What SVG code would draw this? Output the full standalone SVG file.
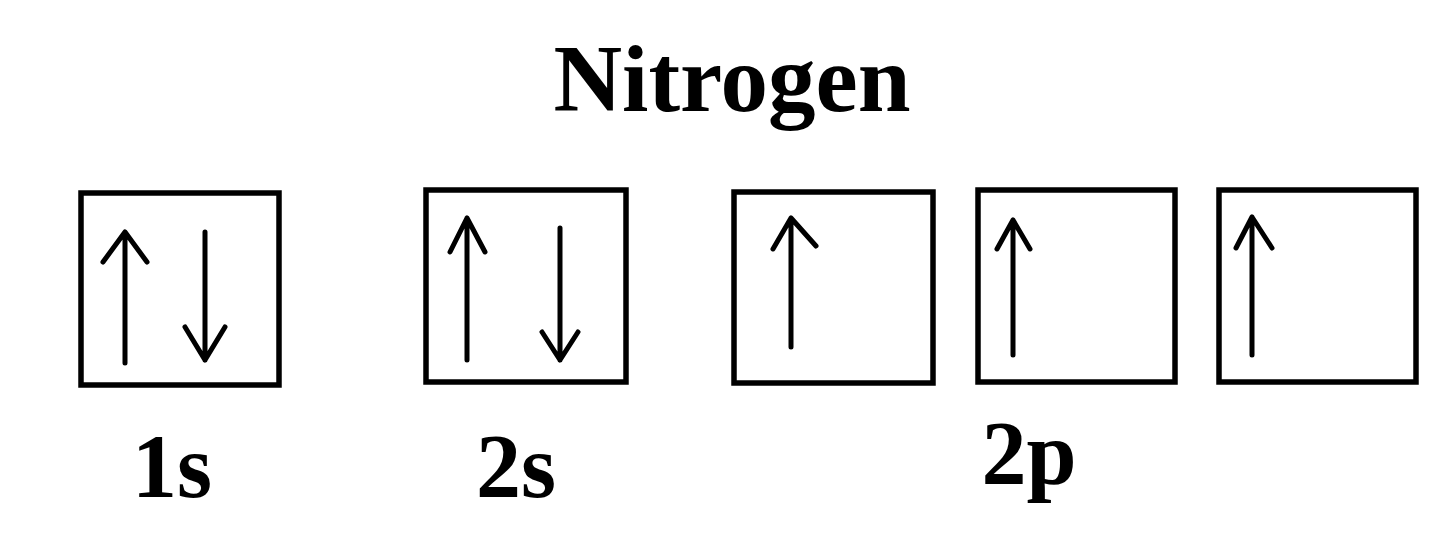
<svg xmlns="http://www.w3.org/2000/svg" width="1440" height="537" viewBox="0 0 1440 537">
<style>
.box{fill:none;stroke:#000;stroke-width:5.5}
.arr{fill:none;stroke:#000;stroke-width:5;stroke-linecap:round;stroke-linejoin:round}
.t{font-family:"Liberation Serif","Times New Roman",serif;font-weight:bold;fill:#000}
</style>
<rect width="1440" height="537" fill="#fff"/>
<text class="t" x="732" y="111" font-size="95" text-anchor="middle">Nitrogen</text>
<g id="orbital-1s">
<rect class="box" x="81" y="193" width="198" height="192"/>
<path class="arr" d="M125 363V232M103 262L125 232L147 262"/>
<path class="arr" d="M205 232V360M185 327L205 360L225 327"/>
<text class="t" x="172" y="497" font-size="90" text-anchor="middle">1s</text>
</g>
<g id="orbital-2s">
<rect class="box" x="426" y="190" width="200" height="192"/>
<path class="arr" d="M467 360V218M450 252L467 218L485 252"/>
<path class="arr" d="M560 228V360M542 332L560 360L578 332"/>
<text class="t" x="516" y="497" font-size="90" text-anchor="middle">2s</text>
</g>
<g id="orbital-2p-1">
<rect class="box" x="734" y="192" width="199" height="191"/>
<path class="arr" d="M791 347V218M773 249L791 218L816 246"/>
</g>
<g id="orbital-2p-2">
<rect class="box" x="978" y="190" width="197" height="192"/>
<path class="arr" d="M1013 355V220M997 249L1013 220L1030 249"/>
<text class="t" x="1029" y="484" font-size="90" text-anchor="middle">2p</text>
</g>
<g id="orbital-2p-3">
<rect class="box" x="1219" y="190" width="197" height="192"/>
<path class="arr" d="M1252 355V217M1236 248L1252 217L1272 248"/>
</g>
<g id="connectors"></g>
</svg>
